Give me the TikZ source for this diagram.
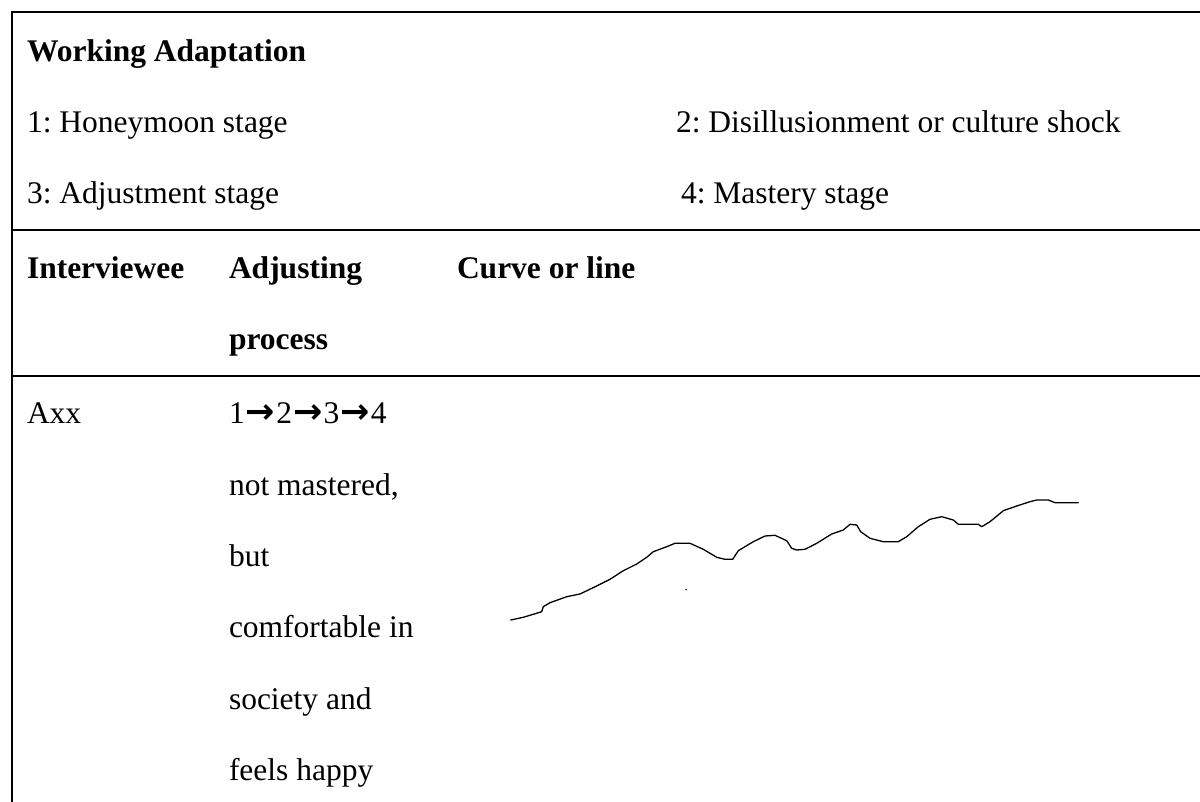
\documentclass[tikz,border=0pt]{standalone}
\usepackage{fontspec}
\setmainfont{Liberation Serif}
\newfontfamily\arrowfont{DejaVu Sans}
\newcommand\stagearrow{\makebox[1em]{\arrowfont\bfseries\fontsize{17.5pt}{18pt}\selectfont →}}
\frenchspacing
\tikzset{
  rule/.style={line width=1pt, draw=black},
  txt/.style={anchor=base west, inner sep=0pt, outer sep=0pt, font=\fontsize{15.75pt}{18pt}\selectfont\frenchspacing},
  head/.style={txt, font=\fontsize{15.75pt}{18pt}\selectfont\frenchspacing\bfseries},
  curveline/.style={line width=0.65pt, draw=black, line join=round, line cap=round}
}
\begin{document}
\begin{tikzpicture}[x=0.5pt, y=-0.5pt]
\useasboundingbox (0,0) rectangle (1200,802);
% table rules
\coordinate (tl) at (12,12);
\coordinate (tr) at (1200,12);
\coordinate (bl) at (12,802);
\coordinate (h1l) at (12,230);
\coordinate (h1r) at (1200,230);
\coordinate (h2l) at (12,376);
\coordinate (h2r) at (1200,376);
\draw[rule] (bl) -- (tl) -- (tr);
\draw[rule] (h1l) -- (h1r);
\draw[rule] (h2l) -- (h2r);
% first cell
\node[head] (title) at (27,62) {Working Adaptation};
\node[txt] (s1) at (27,133) {1: Honeymoon stage};
\node[txt] (s2) at (676,133) {2: Disillusionment or culture shock};
\node[txt] (s3) at (27,204) {3: Adjustment stage};
\node[txt] (s4) at (681,204) {4: Mastery stage};
% header row
\node[head] (c1) at (27,279) {Interviewee};
\node[head] (c2) at (229,279) {Adjusting};
\node[head] (c2b) at (229,350) {process};
\node[head] (c3) at (457,279) {Curve or line};
% data row
\node[txt] (axx) at (27,423) {Axx};
\node[txt] (proc) at (229,423) {1\stagearrow2\stagearrow3\stagearrow4};
\node[txt] (p1) at (229,495) {not mastered,};
\node[txt] (p2) at (229,566) {but};
\node[txt] (p3) at (229,637) {comfortable in};
\node[txt] (p4) at (229,709) {society and};
\node[txt] (p5) at (229,780) {feels happy};
% curve
\draw[curveline] plot coordinates {
(510.7,620) (523.3,617.3) (533.3,614.3) (541.7,611.7) (543.3,606.7) (550,602.7)
(566.7,596.7) (580,594) (596.7,586) (610,579.3) (623.3,570.7) (636.7,564)
(646.7,557.3) (653.3,551.7) (666.7,546.7) (675,543.3) (690,543.3) (703.3,549.3)
(716.7,557.3) (725,559.3) (732.7,559.3) (738.3,550.7) (753.3,541.7) (765,536)
(775,535.3) (786.7,540.7) (791.7,548.3) (796.7,550) (805,549.3) (816.7,543.3)
(831.7,534) (843.3,530) (850,524.3) (856.7,525) (860.7,531.7) (870,538.3)
(883.3,541.7) (898.3,541.7) (906.7,536.7) (918.3,526.7) (930,519.3) (941.7,516.7)
(953.3,520) (958.3,524.3) (978.3,524.3) (981.7,526.7) (990,521.7) (1003.3,510.7)
(1016.7,506) (1030,501.7) (1036.7,500) (1048.3,500) (1055,502.7) (1078.3,502.7)};
\fill (686,589.7) circle (0.8);
\end{tikzpicture}
\end{document}
